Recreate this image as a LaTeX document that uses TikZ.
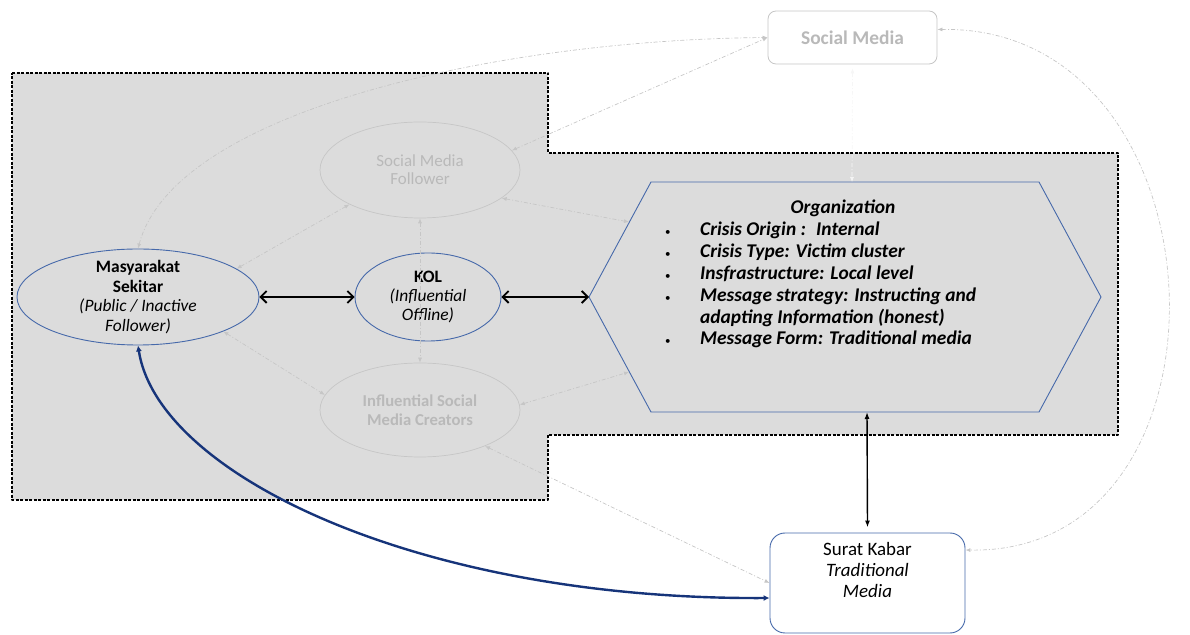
\documentclass[tikz,border=0pt]{standalone}
\usepackage{fontspec}
\setmainfont{Carlito}
\usepackage{tikz}
\usetikzlibrary{shapes,shapes.geometric,arrows,arrows.meta,%
backgrounds,positioning,calc%
}
\definecolor{greyfill}{RGB}{220,220,220}
\definecolor{faintcol}{RGB}{198,198,198}
\definecolor{fainttext}{RGB}{185,185,185}
\definecolor{nodeblue}{RGB}{70,105,170}
\definecolor{darkblue}{RGB}{22,52,122}
\newcommand{\orgbullet}{\makebox[37bp][l]{\hspace*{2bp}{\normalfont\fontsize{11}{11}\selectfont\textbullet}}}

\begin{document}
\begin{tikzpicture}[line join=bevel,
  every node/.style={font=\fontsize{17.5}{19.5}\selectfont},
  every label/.style={align=center},
  blueell/.style={ellipse,draw=nodeblue,line width=0.9bp,inner sep=0pt},
  faintell/.style={ellipse,draw=faintcol,line width=0.7bp,inner sep=0pt},
  smbox/.style={rectangle,rounded corners=8bp,draw=faintcol,fill=white,line width=0.8bp,text=fainttext},
  surbox/.style={rectangle,rounded corners=15bp,draw=nodeblue,fill=white,line width=0.9bp},
  blackarrow/.style={>={Straight Barb[length=6bp,width=12bp]},<->,line width=1.8bp},
  vertarrow/.style={>={Latex[length=7bp,width=5bp]},<->,line width=1.4bp},
  bluearrow/.style={>={Latex[length=6bp,width=6bp]},<->,draw=darkblue,line width=2.4bp},
  faintline/.style={>={Latex[length=5bp,width=4bp]},<->,draw=faintcol,line width=0.7bp,%
    dash pattern=on 4bp off 2bp on 1bp off 2bp},
]
\useasboundingbox (0bp,0bp) rectangle (1190bp,635bp);
\filldraw[fill=greyfill,draw=black,line width=1.2bp,dash pattern=on 3bp off 1.5bp]
  (12bp,562bp) -- (548bp,562bp) -- (548bp,482bp) -- (1118bp,482bp) -- (1118bp,200bp)
  -- (548bp,200bp) -- (548bp,135bp) -- (12bp,135bp) -- cycle;

\node[blueell,minimum width=242bp,minimum height=96bp,
  label={center:{\textbf{Masyarakat}\\\textbf{Sekitar}\\\textit{(Public / Inactive}\\\textit{Follower)}}}]
  (mas) at (138bp,338bp) {};
\node[blueell,minimum width=146bp,minimum height=88bp,
  label={center:{\textbf{KOL}\\\textit{(Influential}\\\textit{Offline)}}}]
  (kol) at (428bp,338bp) {};
\node[faintell,minimum width=200bp,minimum height=96bp,
  label={[text=fainttext,font=\fontsize{17}{18}\selectfont]center:{Social Media\\Follower}}]
  (fol) at (420bp,465bp) {};
\node[faintell,minimum width=200bp,minimum height=94bp,
  label={[text=fainttext,font=\fontsize{16.7}{18.5}\selectfont]center:{\textbf{Influential Social}\\\textbf{Media Creators}}}]
  (cre) at (420bp,225bp) {};
\node[smbox,minimum width=169bp,minimum height=53bp,font=\fontsize{19.5}{20}\selectfont\bfseries]
  (smedia) at (852.5bp,597.5bp) {Social Media};
\node[surbox,minimum width=195bp,minimum height=100bp] (surat) at (867.5bp,52bp) {};
\node[below=6bp of surat.north,align=center,font=\fontsize{19}{21}\selectfont]
  (surat-txt) {Surat Kabar\\\textit{Traditional}\\\textit{Media}};

\coordinate (org-w) at (589bp,338bp);
\coordinate (org-nw) at (651bp,453bp);
\coordinate (org-ne) at (1039bp,453bp);
\coordinate (org-e) at (1101bp,338bp);
\coordinate (org-se) at (1039bp,223bp);
\coordinate (org-sw) at (651bp,223bp);
\coordinate (org-n) at (852bp,453bp);
\coordinate (org-s) at (867bp,223bp);
\coordinate (org-a) at (629bp,413bp);
\coordinate (org-b) at (629bp,263bp);
\draw[draw=nodeblue,line width=0.9bp] (org-w) -- (org-nw) -- (org-ne) -- (org-e)
  -- (org-se) -- (org-sw) -- cycle;
\node[font=\fontsize{19.5}{22}\selectfont\bfseries\itshape] (org-title) at (843bp,427bp) {Organization};
\node[anchor=west,inner sep=0pt,align=left,font=\fontsize{19.5}{22}\selectfont\bfseries\itshape]
  (org) at (663bp,350bp) {%
  \orgbullet Crisis Origin :~ Internal\\
  \orgbullet Crisis Type: Victim cluster\\
  \orgbullet Insfrastructure: Local level\\
  \orgbullet Message strategy: Instructing and\\
  \hspace*{37bp}adapting Information (honest)\\
  \orgbullet Message Form: Traditional media};

\draw[faintline] (mas.north) .. controls (175bp,525bp) and (500bp,595bp) .. (smedia.west);
\draw[faintline] (fol.12) -- (smedia.west);
\draw[faintline] (mas.16) -- (fol.206);
\draw[faintline] (fol.south) -- (cre.north);
\draw[faintline] (fol.-19) -- (org-a);
\draw[faintline] (cre.3) -- (org-b);
\draw[faintline] (mas.-22) -- (cre.171);
\draw[faintline] (cre.-29) -- (surat.west);
\draw[faintline] ([yshift=8bp]smedia.east) .. controls (1230bp,610bp) and (1250bp,80bp) .. ([yshift=33bp]surat.east);
\draw[faintline,draw=greyfill!25!white] ([yshift=-4bp]smedia.south) -- (org-n);

\draw[blackarrow] (mas.east) -- (kol.west);
\draw[blackarrow] (kol.east) -- (org-w);
\draw[vertarrow] (org-s) -- ([yshift=5bp]surat.north);
\draw[bluearrow] (mas.south) .. controls (158bp,160bp) and (420bp,35bp) .. ([yshift=-15bp]surat.west);
\end{tikzpicture}
\end{document}
